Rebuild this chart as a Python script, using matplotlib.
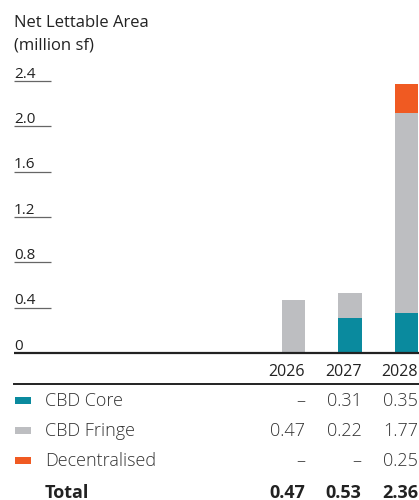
import matplotlib
matplotlib.use("Agg")
import matplotlib.pyplot as plt
from matplotlib.patches import Rectangle

plt.rcParams['font.family'] = ['Open Sans', 'DejaVu Sans']

years = ['2026', '2027', '2028']
cbd_core = [0.0, 0.31, 0.35]
cbd_fringe = [0.47, 0.22, 1.77]
decentralised = [0.0, 0.0, 0.25]
totals = [0.47, 0.53, 2.36]
y_ticks = [0, 0.4, 0.8, 1.2, 1.6, 2.0, 2.4]

series = [
    ('CBD Core', cbd_core, '#0A8A9E'),
    ('CBD Fringe', cbd_fringe, '#BDBEC1'),
    ('Decentralised', decentralised, '#F05A22'),
]

W, H = 419, 500
fig = plt.figure(figsize=(W / 100, H / 100), dpi=100)


def fx(px):
    return px / W


def fy(py):
    return 1 - py / H


# chart area in pixels: left 14, right 419, baseline 353, top 75
ax = fig.add_axes([fx(14), fy(353), fx(405), (353 - 75) / H])
ymax = 2.4 * (353 - 75) / (353 - 81)
ax.set_ylim(0, ymax)
ax.set_xlim(-4.947, 2.22)
ax.axis('off')

bw = 0.41
xs = list(range(len(years)))
bottom = [0.0] * len(years)
for name, vals, col in series:
    ax.bar(xs, vals, width=bw, bottom=bottom, color=col, zorder=2)
    bottom = [b + v for b, v in zip(bottom, vals)]

# short tick rules with labels sitting on top
ytr = ax.get_yaxis_transform()
for t in y_ticks:
    if t == 0:
        ax.plot([0, 1], [0, 0], transform=ytr, color='#222222', lw=1.6,
                zorder=3, clip_on=False, solid_capstyle='butt')
    else:
        ax.plot([0, 0.092], [t, t], transform=ytr, color='#666666', lw=0.9,
                clip_on=False, solid_capstyle='butt')
    lab = '0' if t == 0 else f'{t:.1f}'
    ax.annotate(lab, xy=(0, t), xycoords=ytr, xytext=(0, 2.5),
                textcoords='offset points', ha='left', va='baseline',
                fontsize=11, color='#222222')

fig.text(fx(14), fy(27), 'Net Lettable Area', fontsize=12,
         color='#222222', va='baseline')
fig.text(fx(14), fy(50), '(million sf)', fontsize=12,
         color='#222222', va='baseline')

# table below the chart, columns right-aligned with bar edges
col_x = [ax.transData.transform((x + bw / 2, 0))[0] for x in xs]
col_x = [fig.transFigure.inverted().transform((c, 0))[0] for c in col_x]

for cx, yr in zip(col_x, years):
    fig.text(cx, fy(376), yr, ha='right', va='baseline', fontsize=11.5,
             color='#222222')

fig.add_artist(plt.Line2D([fx(14), 1], [fy(384), fy(384)],
                          color='#222222', lw=1.4))

row_base = [406, 436, 466.5]
for (name, vals, col), yb in zip(series, row_base):
    fig.add_artist(Rectangle((fx(15), fy(yb - 2.5)), fx(16), 7 / H,
                             facecolor=col, edgecolor='none',
                             transform=fig.transFigure))
    fig.text(fx(45), fy(yb), name, ha='left', va='baseline', fontsize=13,
             color='#333333', fontweight='light')
    for cx, v in zip(col_x, vals):
        s = '–' if v == 0 else f'{v:.2f}'
        fig.text(cx, fy(yb), s, ha='right', va='baseline', fontsize=13,
                 color='#333333', fontweight='light')

fig.text(fx(45), fy(497.5), 'Total', ha='left', va='baseline', fontsize=13,
         color='#222222', fontweight='bold')
for cx, v in zip(col_x, totals):
    fig.text(cx, fy(497.5), f'{v:.2f}', ha='right', va='baseline',
             fontsize=13, color='#222222', fontweight='bold')

fig.savefig('out.png', dpi=100)
